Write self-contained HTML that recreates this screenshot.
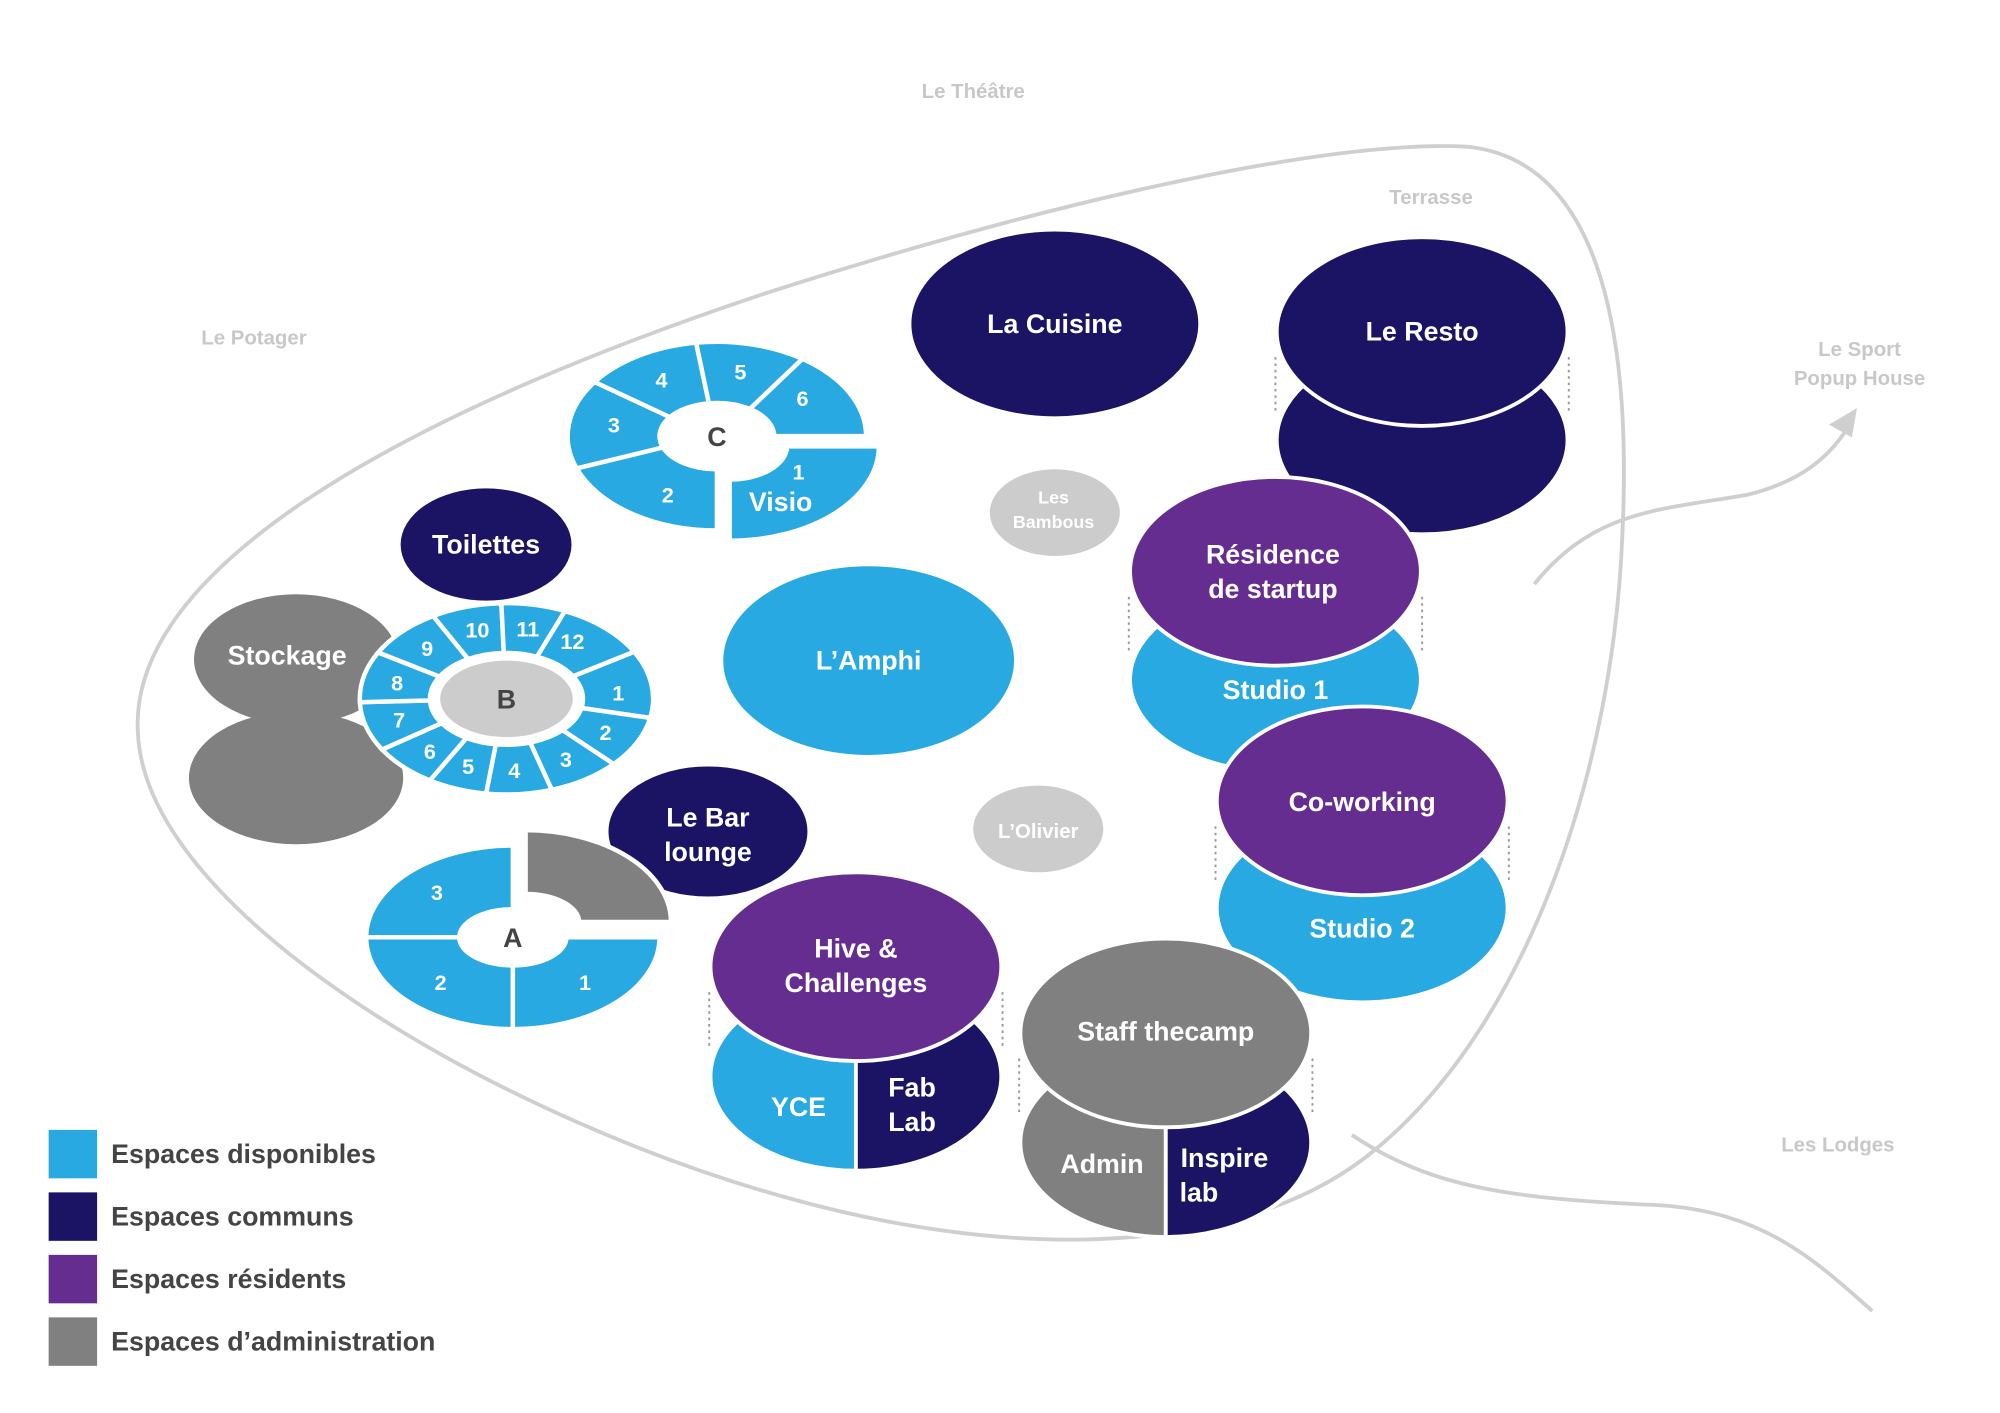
<!DOCTYPE html>
<html><head><meta charset="utf-8"><style>
html,body{margin:0;padding:0;background:#fff;}
svg{display:block;}
text{font-family:"Liberation Sans",sans-serif;font-weight:bold;}
</style></head><body>
<svg id="map" width="2000" height="1413" viewBox="0 0 1568 1108" xmlns="http://www.w3.org/2000/svg">
<g id="bg">
<path d="M108 575 C100 450 300 330 600 230 C850 150 1050 110 1150 115 C1250 125 1280 250 1272 420 C1265 600 1200 800 1080 900 C980 985 800 990 620 940 C400 880 115 720 108 575 Z" fill="none" stroke="#cfcfcf" stroke-width="3"/>
<path d="M1203 458 C1250 400 1300 400 1370 388 C1410 378 1435 360 1452 330" fill="none" stroke="#cfcfcf" stroke-width="3"/>
<polygon points="1456,320 1434,333 1452,343" fill="#cfcfcf"/>
<path d="M1060 890 C1120 930 1180 940 1300 945 C1380 950 1420 985 1468 1028" fill="none" stroke="#cfcfcf" stroke-width="3"/>
</g>
<g fill="#c8c8c8" font-size="16" text-anchor="middle">
<text x="763" y="77">Le Théâtre</text>
<text x="1122" y="160">Terrasse</text>
<text x="199" y="270">Le Potager</text>
<text x="1458" y="279">Le Sport</text>
<text x="1458" y="302">Popup House</text>
<text x="1441" y="903">Les Lodges</text>
</g>
<g id="spaces" stroke="#fff" stroke-width="3">
<ellipse cx="827" cy="254" rx="114" ry="74" fill="#1b1464"/>
<ellipse cx="1115" cy="345" rx="114" ry="74" fill="#1b1464"/>
<ellipse cx="1115" cy="260" rx="114" ry="74" fill="#1b1464"/>
<ellipse cx="827" cy="402" rx="51" ry="34" fill="#cccccc" stroke="none"/>
<ellipse cx="1000" cy="533" rx="114" ry="72" fill="#29a9e1"/>
<ellipse cx="1000" cy="448" rx="114" ry="74" fill="#662d91"/>
<ellipse cx="1068" cy="712" rx="114" ry="74" fill="#29a9e1"/>
<ellipse cx="1068" cy="628" rx="114" ry="74" fill="#662d91"/>
<ellipse cx="681" cy="518" rx="114" ry="74" fill="#29a9e1" stroke="none"/>
<ellipse cx="814" cy="650" rx="51" ry="34" fill="#cccccc" stroke="none"/>
<ellipse cx="381" cy="427" rx="67" ry="44" fill="#1b1464" stroke="none"/>
<ellipse cx="232" cy="610" rx="84" ry="52" fill="#808080" stroke="none"/>
<ellipse cx="232" cy="517" rx="80" ry="51" fill="#808080" stroke="none"/>
<ellipse cx="555" cy="652" rx="78" ry="51" fill="#1b1464" stroke="none"/>
<path d="M671 770 A114 74 0 0 0 671 918 Z" fill="#29a9e1"/>
<path d="M671 770 A114 74 0 0 1 671 918 Z" fill="#1b1464"/>
<ellipse cx="671" cy="758" rx="114" ry="74" fill="#662d91"/>
<path d="M914 822 A114 74 0 0 0 914 970 Z" fill="#808080"/>
<path d="M914 822 A114 74 0 0 1 914 970 Z" fill="#1b1464"/>
<ellipse cx="914" cy="810" rx="114" ry="74" fill="#808080"/>
</g>
<g id="dots" stroke="#999" stroke-width="1.5" stroke-dasharray="2 3">
<line x1="1000" y1="280" x2="1000" y2="325"/><line x1="1230" y1="280" x2="1230" y2="325"/>
<line x1="885" y1="468" x2="885" y2="512"/><line x1="1115" y1="468" x2="1115" y2="512"/>
<line x1="953" y1="648" x2="953" y2="692"/><line x1="1183" y1="648" x2="1183" y2="692"/>
<line x1="556" y1="778" x2="556" y2="822"/><line x1="786" y1="778" x2="786" y2="822"/>
<line x1="799" y1="830" x2="799" y2="874"/><line x1="1029" y1="830" x2="1029" y2="874"/>
</g>
<g id="rings"></g>
<g fill="#fff" font-size="21" text-anchor="middle">
<text x="827" y="261">La Cuisine</text>
<text x="1115" y="267">Le Resto</text>
<text x="826" y="395" font-size="14">Les</text>
<text x="826" y="414" font-size="14">Bambous</text>
<text x="998" y="442">Résidence</text>
<text x="998" y="469">de startup</text>
<text x="1000" y="548">Studio 1</text>
<text x="1068" y="636">Co-working</text>
<text x="1068" y="735">Studio 2</text>
<text x="681" y="525">L’Amphi</text>
<text x="814" y="657" font-size="16">L’Olivier</text>
<text x="381" y="434">Toilettes</text>
<text x="225" y="521">Stockage</text>
<text x="555" y="648">Le Bar</text>
<text x="555" y="675">lounge</text>
<text x="671" y="751">Hive &amp;</text>
<text x="671" y="778">Challenges</text>
<text x="626" y="875">YCE</text>
<text x="715" y="860">Fab</text>
<text x="715" y="887">Lab</text>
<text x="914" y="816">Staff thecamp</text>
<text x="864" y="920">Admin</text>
<text x="960" y="915">Inspire</text>
<text x="940" y="942">lab</text>
</g>
<g id="legend" font-size="21" fill="#444">
<rect x="38" y="886" width="38" height="38" fill="#29a9e1"/>
<text x="87" y="912">Espaces disponibles</text>
<rect x="38" y="935" width="38" height="38" fill="#1b1464"/>
<text x="87" y="961">Espaces communs</text>
<rect x="38" y="984" width="38" height="38" fill="#662d91"/>
<text x="87" y="1010">Espaces résidents</text>
<rect x="38" y="1033" width="38" height="38" fill="#808080"/>
<text x="87" y="1059">Espaces d’administration</text>
</g>
</svg>
<script>
const ringBLabels=["1","2","3","4","5","6","7","8","9","10","11","12"];
const ringBAngles=[-5,28,58,86,110,133,163,193,225,255,281,306];
const ringCLabels=["3","4","5","6","2"];
const ringCAngles=[190,238,283,325,118];
const ringALabels=["3","2","1"];
const ringAAngles=[225,135,45];
const NS="http://www.w3.org/2000/svg";
const g=document.getElementById('rings');
function pt(cx,cy,rx,ry,a){const r=a*Math.PI/180;return [cx+rx*Math.cos(r),cy+ry*Math.sin(r)];}
function sector(cx,cy,rx,ry,irx,iry,a0,a1,fill,name){
  const p0=pt(cx,cy,rx,ry,a0),p1=pt(cx,cy,rx,ry,a1),q1=pt(cx,cy,irx,iry,a1),q0=pt(cx,cy,irx,iry,a0);
  const lg=(a1-a0)>180?1:0;
  const p=document.createElementNS(NS,'path');
  p.setAttribute('d',`M${p0} A${rx} ${ry} 0 ${lg} 1 ${p1} L${q1} A${irx} ${iry} 0 ${lg} 0 ${q0} Z`);
  p.setAttribute('fill',fill);p.setAttribute('stroke','#fff');p.setAttribute('stroke-width','3.5');
  
  
  g.appendChild(p);}
function label(x,y,t,size,fill,name){
  const e=document.createElementNS(NS,'text');
  e.setAttribute('x',x);e.setAttribute('y',y+size*0.36);e.setAttribute('text-anchor','middle');
  e.setAttribute('font-size',size);e.setAttribute('fill',fill);e.textContent=t;
  
  
  g.appendChild(e);}
function ell(cx,cy,rx,ry,fill,name){
  const e=document.createElementNS(NS,'ellipse');
  e.setAttribute('cx',cx);e.setAttribute('cy',cy);e.setAttribute('rx',rx);e.setAttribute('ry',ry);e.setAttribute('fill',fill);
  
  
  g.appendChild(e);}
(function(){const cx=397,cy=548,n=ringBAngles.length;
 for(let i=0;i<n;i++){const a=ringBAngles[i],prev=ringBAngles[(i+n-1)%n],next=ringBAngles[(i+1)%n];
  let a0=(a+((prev>a?prev-360:prev)))/2,a1=(a+((next<a?next+360:next)))/2;
  sector(cx,cy,115,75,60,36,a0,a1,'#29a9e1','ring-b-room-'+ringBLabels[i]);
  const p=pt(cx,cy,88,56,a);label(p[0],p[1],ringBLabels[i],17,'#fff','ring-b-label-'+ringBLabels[i]);}
 ell(cx,cy,52,30,'#cccccc','ring-b-center');label(cx,cy,'B',21,'#444','ring-b-title');})();
(function(){const cx=562,cy=342;
 const bounds=[[160,215],[215,262],[262,305],[305,360],[90,160]];
 for(let i=0;i<ringCLabels.length;i++){sector(cx,cy,117,74,45,26,bounds[i][0],bounds[i][1],'#29a9e1','ring-c-room-'+ringCLabels[i]);
  const p=pt(cx,cy,82,52,ringCAngles[i]);label(p[0],p[1],ringCLabels[i],17,'#fff','ring-c-label-'+ringCLabels[i]);}
 sector(cx+10,cy+8,117,74,45,26,0,90,'#29a9e1','visio-room');
 label(626,370,'1',17,'#fff','visio-number');label(612,393,'Visio',21,'#fff','visio-label');
 ell(cx,cy,42,23,'#fff','ring-c-center');label(cx,cy,'C',21,'#444','ring-c-title');})();
(function(){const cx=402,cy=735;
 const bounds=[[180,270],[90,180],[0,90]];
 for(let i=0;i<ringALabels.length;i++){sector(cx,cy,115,72,42,22,bounds[i][0],bounds[i][1],'#29a9e1','ring-a-room-'+ringALabels[i]);
  const p=pt(cx,cy,80,50,ringAAngles[i]);label(p[0]-(i==0?3:0),p[1],ringALabels[i],17,'#fff','ring-a-label-'+ringALabels[i]);}
 sector(cx+10,cy-12,114,72,42,22,270,360,'#808080','ring-a-admin');
 ell(cx,cy,42,22,'#fff','ring-a-center');label(cx,cy,'A',21,'#444','ring-a-title');})();
</script>
</body></html>
